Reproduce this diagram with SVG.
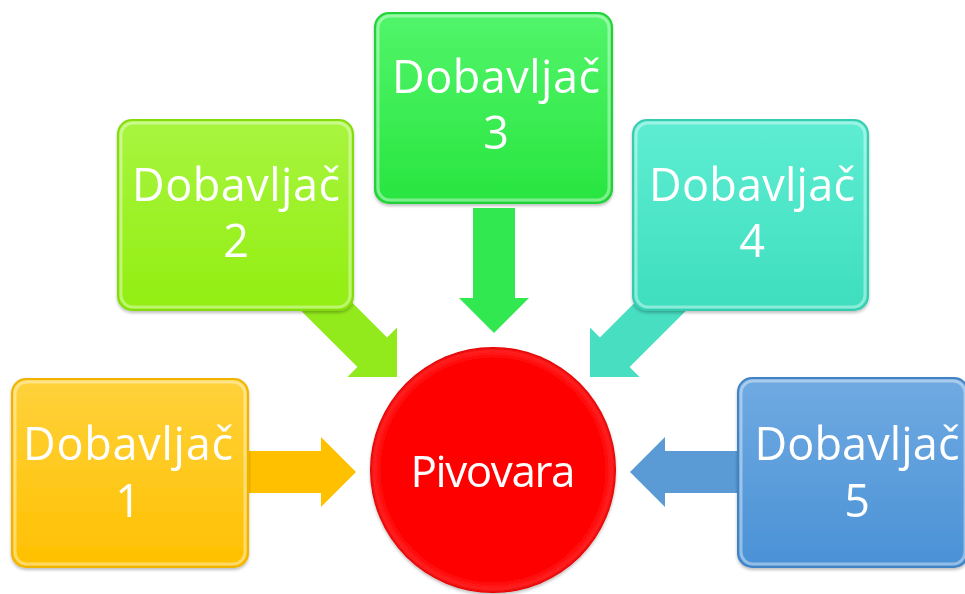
<svg xmlns="http://www.w3.org/2000/svg" width="965" height="594" viewBox="0 0 965 594">
<style>
.lbl{font-family:"Open Sans","Noto Sans","DejaVu Sans",sans-serif;font-size:45px;fill:#ffffff;text-anchor:middle}
.box{stroke-width:2}
.hl{fill:none;stroke:#ffffff;stroke-opacity:0.4;stroke-width:3}
</style>
<defs>
<linearGradient id="g1" x1="0" y1="0" x2="0" y2="1"><stop offset="0" stop-color="#FFD23C"/><stop offset="1" stop-color="#FFC000"/></linearGradient>
<linearGradient id="g2" x1="0" y1="0" x2="0" y2="1"><stop offset="0" stop-color="#A8F540"/><stop offset="1" stop-color="#92EE10"/></linearGradient>
<linearGradient id="g3" x1="0" y1="0" x2="0" y2="1"><stop offset="0" stop-color="#52F56A"/><stop offset="1" stop-color="#28E540"/></linearGradient>
<linearGradient id="g4" x1="0" y1="0" x2="0" y2="1"><stop offset="0" stop-color="#5EEDD2"/><stop offset="1" stop-color="#3EDEBF"/></linearGradient>
<linearGradient id="g5" x1="0" y1="0" x2="0" y2="1"><stop offset="0" stop-color="#70AAE2"/><stop offset="1" stop-color="#4A92D6"/></linearGradient>
<radialGradient id="gc" cx="0.5" cy="0.5" r="0.5"><stop offset="0.9" stop-color="#FF0000"/><stop offset="0.97" stop-color="#FF2020"/><stop offset="1" stop-color="#E00000"/></radialGradient>
<path id="arr" d="M0,0 L-35,-35 L-35,-21 L-125,-21 L-125,21 L-35,21 L-35,35 Z"/>
<filter id="sh" x="-10%" y="-10%" width="120%" height="125%"><feDropShadow dx="0" dy="2" stdDeviation="1.5" flood-color="#000" flood-opacity="0.25"/></filter>
</defs>
<rect width="965" height="594" fill="#ffffff"/>
<g id="connectors">
<use href="#arr" transform="translate(356,472)" fill="#FFC000"/>
<use href="#arr" transform="translate(397,377) rotate(45)" fill="#92EA1C"/>
<use href="#arr" transform="translate(494,333) rotate(90)" fill="#32E850"/>
<use href="#arr" transform="translate(590,377) rotate(135)" fill="#48DEC2"/>
<use href="#arr" transform="translate(630,472) rotate(180)" fill="#5B9BD5"/>
</g>
<g id="node1" filter="url(#sh)">
<rect class="box" x="12" y="379" width="236" height="188" rx="14" fill="url(#g1)" stroke="#F0B400"/>
<rect class="hl" x="15" y="382" width="230" height="182" rx="12"/>
<text class="lbl" x="128" y="460" textLength="210">Dobavljač</text>
<text class="lbl" x="128" y="517">1</text>
</g>
<g id="node2" filter="url(#sh)">
<rect class="box" x="118" y="120" width="235" height="190" rx="14" fill="url(#g2)" stroke="#84DC10"/>
<rect class="hl" x="121" y="123" width="229" height="184" rx="12"/>
<text class="lbl" x="236" y="201" textLength="208">Dobavljač</text>
<text class="lbl" x="236" y="257">2</text>
</g>
<g id="node3" filter="url(#sh)">
<rect class="box" x="375" y="13" width="237" height="190" rx="14" fill="url(#g3)" stroke="#22D03A"/>
<rect class="hl" x="378" y="16" width="231" height="184" rx="12"/>
<text class="lbl" x="496" y="93" textLength="208">Dobavljač</text>
<text class="lbl" x="496" y="149">3</text>
</g>
<g id="node4" filter="url(#sh)">
<rect class="box" x="633" y="120" width="235" height="190" rx="14" fill="url(#g4)" stroke="#36CCB0"/>
<rect class="hl" x="636" y="123" width="229" height="184" rx="12"/>
<text class="lbl" x="752" y="201" textLength="206">Dobavljač</text>
<text class="lbl" x="752" y="257">4</text>
</g>
<g id="node5" filter="url(#sh)">
<rect class="box" x="738" y="378" width="230" height="189" rx="14" fill="url(#g5)" stroke="#4283C4"/>
<rect class="hl" x="741" y="381" width="224" height="183" rx="12"/>
<text class="lbl" x="857" y="460" textLength="205">Dobavljač</text>
<text class="lbl" x="857" y="517">5</text>
</g>
<g id="center" filter="url(#sh)">
<circle cx="493" cy="470" r="123" fill="url(#gc)"/>
<text class="lbl" x="493" y="487" style="font-size:44px" textLength="165">Pivovara</text>
</g>
</svg>
